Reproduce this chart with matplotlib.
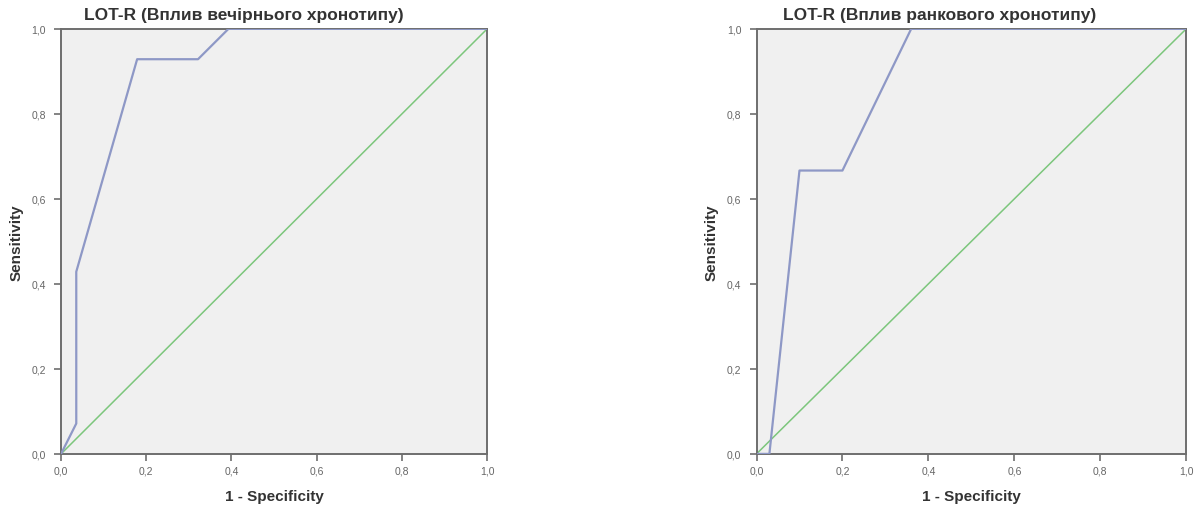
#!/usr/bin/env python3
"""
ROC curves for LOT-R by chronotype (evening / morning)
"""

import matplotlib
matplotlib.use('Agg')
import matplotlib.pyplot as plt
from matplotlib.ticker import FuncFormatter

plt.rcParams['font.family'] = ['Liberation Sans', 'DejaVu Sans']

# ROC points: 1 - specificity (fpr) and sensitivity (tpr)
evening_title = 'LOT-R (Вплив вечірнього хронотипу)'
evening_fpr = [0.0, 1/28, 1/28, 5/28, 9/28, 11/28, 1.0]
evening_tpr = [0.0, 1/14, 6/14, 13/14, 13/14, 1.0, 1.0]

morning_title = 'LOT-R (Вплив ранкового хронотипу)'
morning_fpr = [0.0, 0.03, 0.10, 0.20, 0.36, 1.0]
morning_tpr = [0.0, 0.0, 2/3, 2/3, 1.0, 1.0]

ref_line = [0.0, 1.0]
ticks = [0.0, 0.2, 0.4, 0.6, 0.8, 1.0]

ROC_COLOR = '#8e98c6'
REF_COLOR = '#7cc67c'
FRAME_COLOR = '#6e6e6e'


def comma_fmt(v, pos):
    return f"{v:.1f}".replace('.', ',')


def draw_roc(ax, title, fpr, tpr, title_x):
    ax.set_facecolor('#f0f0f0')
    ax.plot(ref_line, ref_line, color=REF_COLOR, linewidth=1.1, zorder=2)
    ax.plot(fpr, tpr, color=ROC_COLOR, linewidth=1.6, zorder=3)

    ax.set_xlim(0, 1)
    ax.set_ylim(0, 1)
    ax.set_xticks(ticks)
    ax.set_yticks(ticks)
    ax.xaxis.set_major_formatter(FuncFormatter(comma_fmt))
    ax.yaxis.set_major_formatter(FuncFormatter(comma_fmt))
    ax.tick_params(direction='out', length=5, width=1.2, color=FRAME_COLOR,
                   labelsize=7.5, labelcolor='#666666')
    ax.tick_params(axis='y', pad=6)
    ax.tick_params(axis='x', pad=3)
    for side in ax.spines.values():
        side.set_color(FRAME_COLOR)
        side.set_linewidth(1.4)

    ax.set_xlabel('1 - Specificity', fontsize=11, fontweight='bold',
                  color='#333333', labelpad=10)
    ax.set_ylabel('Sensitivity', fontsize=11, fontweight='bold',
                  color='#333333')
    ax.yaxis.set_label_coords(-0.089, 0.5)
    ax.text(title_x, 1.015, title, transform=ax.transAxes, ha='center',
            va='bottom', fontsize=12.5, fontweight='bold', color='#333333')


fig = plt.figure(figsize=(11.97, 5.06), dpi=100)
ax1 = fig.add_axes([0.051, 0.101, 0.356, 0.840])
ax2 = fig.add_axes([0.632, 0.101, 0.359, 0.840])

draw_roc(ax1, evening_title, evening_fpr, evening_tpr, 0.43)
draw_roc(ax2, morning_title, morning_fpr, morning_tpr, 0.425)

plt.savefig('out.png', dpi=100)
